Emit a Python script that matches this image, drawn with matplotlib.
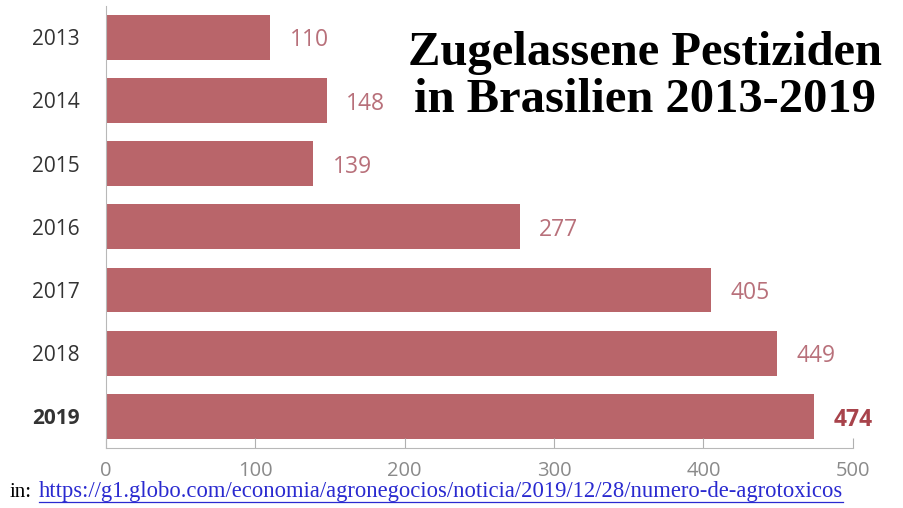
import matplotlib.pyplot as plt

years = ['2013', '2014', '2015', '2016', '2017', '2018', '2019']
values = [110, 148, 139, 277, 405, 449, 474]
xticks = [0, 100, 200, 300, 400, 500]

bar_color = '#b9656a'
label_color = '#b8707a'
highlight_color = '#a8434b'
url = 'https://g1.globo.com/economia/agronegocios/noticia/2019/12/28/numero-de-agrotoxicos'

fig = plt.figure(figsize=(9.04, 5.08), dpi=100)
ax = fig.add_axes([0.117, 0.118, 0.8265, 0.871])

ypos = list(range(len(years)))
ax.barh(ypos, values, height=0.71, color=bar_color)
ax.set_ylim(6.5, -0.5)
ax.set_xlim(0, 500)

for y, v in zip(ypos, values):
    last = y == len(values) - 1
    ax.text(v + 13, y + 0.05, str(v), va='center', ha='left',
            fontsize=16.5, family='Open Sans',
            color=highlight_color if last else label_color,
            fontweight='bold' if last else 'normal')

ax.set_yticks(ypos)
ax.set_yticklabels(years, fontsize=15, family='Open Sans', color='#333333')
ax.get_yticklabels()[-1].set_fontweight('bold')
ax.tick_params(axis='y', length=0, pad=18.5)

ax.set_xticks(xticks)
ax.set_xticklabels([str(t) for t in xticks], fontsize=14.5, family='Open Sans',
                   color='#8a8a8a')
ax.tick_params(axis='x', direction='in', length=7, color='#b0b0b0', pad=9)

for s in ['top', 'right']:
    ax.spines[s].set_visible(False)
ax.spines['left'].set_color('#b8b8b8')
ax.spines['bottom'].set_color('#b8b8b8')

fig.text(0.713, 0.85, 'Zugelassene Pestiziden\nin Brasilien 2013-2019',
         ha='center', va='center', fontsize=35, fontweight='bold',
         family='Liberation Serif', color='black', linespacing=1.08)

fig.text(0.011, 0.022, 'in:', fontsize=15, family='Liberation Serif',
         color='black', va='baseline')
t = fig.text(0.043, 0.022, url, fontsize=16.3, family='Liberation Serif',
             color='#2a2ad0', va='baseline')

# underline the link
fig.canvas.draw()
bb = t.get_window_extent().transformed(fig.transFigure.inverted())
fig.add_artist(plt.Line2D([bb.x0, bb.x1], [0.012, 0.012], color='#2a2ad0',
                          lw=0.9))

fig.savefig('out.png', dpi=100)
